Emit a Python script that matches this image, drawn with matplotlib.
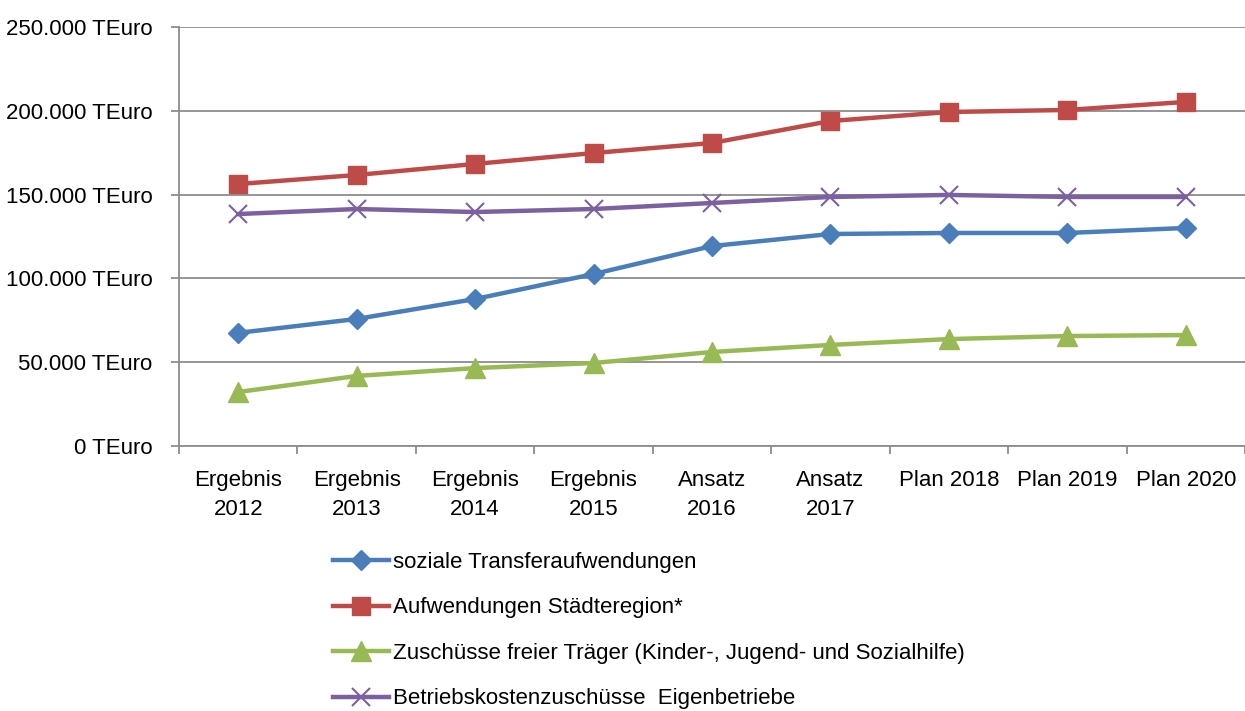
import matplotlib
matplotlib.use("Agg")
import matplotlib.pyplot as plt
from matplotlib.ticker import FuncFormatter, FixedLocator

plt.rcParams['font.family'] = ['Liberation Sans', 'DejaVu Sans']

categories = ["Ergebnis\n2012", "Ergebnis\n2013", "Ergebnis\n2014", "Ergebnis\n2015",
              "Ansatz\n2016", "Ansatz\n2017", "Plan 2018", "Plan 2019", "Plan 2020"]

soziale = [67500, 75800, 87700, 102600, 119300, 126500, 127100, 127100, 130100]
staedteregion = [156300, 161700, 168300, 174800, 180800, 193900, 199300, 200500, 205300]
zuschuesse = [32200, 41800, 46500, 49500, 56100, 60300, 63800, 65600, 66200]
betrieb = [138400, 141400, 139600, 141400, 145000, 148600, 149800, 148600, 148600]

labels = ["soziale Transferaufwendungen",
          "Aufwendungen Städteregion*",
          "Zuschüsse freier Träger (Kinder-, Jugend- und Sozialhilfe)",
          "Betriebskostenzuschüsse  Eigenbetriebe"]

FS = 16

fig = plt.figure(figsize=(12.45, 7.11), dpi=100)
ax = fig.add_axes([179/1245, 1-446/711, 1-179/1245, (446-27)/711])

x = list(range(len(categories)))
lw = 3.2
ax.plot(x, soziale, color='#4A7EBB', lw=lw, marker='D', ms=10, mec='#4A7EBB', label=labels[0], zorder=4)
ax.plot(x, staedteregion, color='#BE4B48', lw=lw, marker='s', ms=13, mec='#BE4B48', label=labels[1], zorder=4)
ax.plot(x, zuschuesse, color='#98B954', lw=lw, marker='^', ms=14, mec='#98B954', label=labels[2], zorder=4)
ax.plot(x, betrieb, color='#7D60A0', lw=lw, marker='x', ms=13, mew=1.5, mec='#7D60A0', label=labels[3], zorder=4)

ax.set_xlim(-0.5, len(categories) - 0.5)
ax.set_ylim(0, 250000)
ax.set_yticks(range(0, 250001, 50000))
ax.yaxis.set_major_formatter(FuncFormatter(lambda v, p: f"{int(v):,}".replace(",", ".") + " TEuro"))
ax.grid(axis='y', color='#8C8C8C', lw=1.3, zorder=0)
ax.set_axisbelow(True)

ax.set_xticks(x)
ax.set_xticklabels(categories, fontsize=FS, linespacing=1.5)
ax.xaxis.set_minor_locator(FixedLocator([i - 0.5 for i in range(len(categories) + 1)]))
ax.tick_params(axis='x', which='major', length=0, pad=17)
ax.tick_params(axis='x', which='minor', length=6, width=1.3, color='#8C8C8C')
ax.tick_params(axis='y', which='major', length=6, width=1.3, color='#8C8C8C', labelsize=FS, pad=13)

for s in ['top', 'right']:
    ax.spines[s].set_visible(False)
for s in ['left', 'bottom']:
    ax.spines[s].set_color('#8C8C8C')
    ax.spines[s].set_linewidth(1.3)

leg = fig.legend(loc='upper left', bbox_to_anchor=(333/1245, 1-552/711), frameon=False,
                 fontsize=FS, handlelength=2.5, handletextpad=0.18, labelspacing=1.1,
                 borderpad=0, borderaxespad=0)

fig.savefig("out.png", dpi=100)
